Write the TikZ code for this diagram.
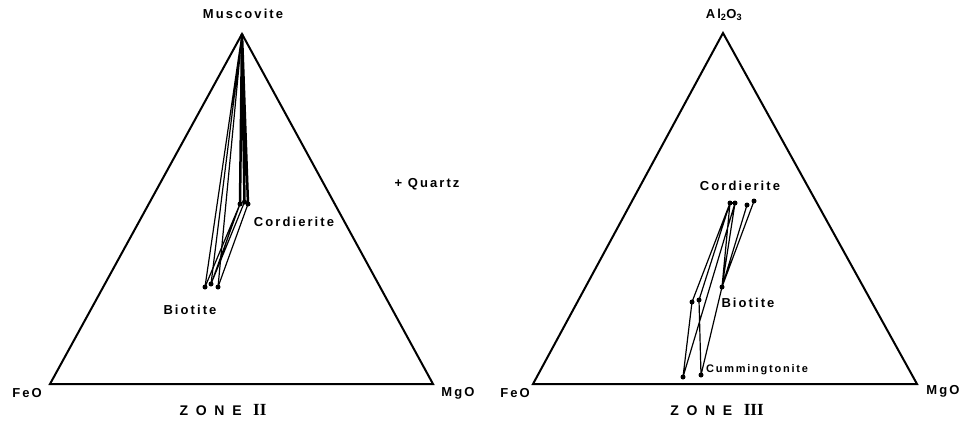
\documentclass[tikz,border=0pt]{standalone}
\usepackage{fontspec}
\setmainfont{Liberation Sans}
\newfontfamily\lblfont[LetterSpace=16]{Liberation Sans Bold}
\newfontfamily\zonefont[LetterSpace=55]{Liberation Sans Bold}
\newfontfamily\numfont{Liberation Serif Bold}
\begin{document}
\begin{tikzpicture}[x=1pt,y=-1pt,
  tri/.style={line width=2pt,line join=miter},
  tie/.style={line width=1.2pt},
  thick tie/.style={line width=2.5pt},
  dot/.style={circle,fill=black,inner sep=0pt,minimum size=5pt},
  lbl/.style={font=\lblfont\fontsize{13}{15}\selectfont,inner sep=0pt},
  zone/.style={font=\zonefont\fontsize{14}{16}\selectfont,inner sep=0pt}]
\useasboundingbox (0,0) rectangle (962,423);
% ---------- Zone II ----------
\coordinate (A1) at (242,34);
\coordinate (F1) at (50,384);
\coordinate (M1) at (433,384);
\draw[tri] (A1) -- (F1) -- (M1) -- cycle;
\node[dot] (c1) at (240,204) {};
\node[dot] (c2) at (244.5,202) {};
\node[dot] (c3) at (248,204) {};
\node[dot] (b1) at (205,287) {};
\node[dot] (b2) at (211,284) {};
\node[dot] (b3) at (218,287) {};
\draw[thick tie] (A1) -- (c1.center) (A1) -- (c2.center) (A1) -- (c3.center);
\draw[tie] (A1) -- (b1.center) (A1) -- (b2.center) (A1) -- (b3.center);
\draw[tie] (c1.center) -- (b1.center) (c2.center) -- (b2.center) (c3.center) -- (b3.center) (c1.center) -- (b2.center);
\node[lbl] (mus) at (243,14) {Muscovite};
\node[lbl] (feo1) at (27,393) {FeO};
\node[lbl] (mgo1) at (458,393) {MgO};
\node[lbl] (cord1) at (294,222) {Cordierite};
\node[lbl] (bio1) at (190,310) {Biotite};
\node[zone] (z2) at (223,410) {ZONE {\numfont\fontsize{17}{17}\selectfont II}};
% ---------- Quartz ----------
\node[lbl] (qz) at (427,184) {+ Quartz};
% ---------- Zone III ----------
\coordinate (A2) at (723,33);
\coordinate (F2) at (533,384);
\coordinate (M2) at (917,384);
\draw[tri] (A2) -- (F2) -- (M2) -- cycle;
\node[dot] (d1) at (730,203) {};
\node[dot] (d2) at (735,203) {};
\node[dot] (d3) at (747,205) {};
\node[dot] (d4) at (754,201) {};
\node[dot] (e1) at (692,302) {};
\node[dot] (e2) at (699,300) {};
\node[dot] (e3) at (722,287) {};
\node[dot] (g1) at (683,377) {};
\node[dot] (g2) at (701,375) {};
\draw[thick tie] (d1.center) -- (d2.center);
\draw[tie] (d1.center) -- (e1.center) (d1.center) -- (e2.center) (d2.center) -- (g1.center)
  (d1.center) -- (e3.center) (d2.center) -- (e3.center) (d3.center) -- (e3.center) (d4.center) -- (e3.center)
  (e1.center) -- (g1.center) (e2.center) -- (g2.center) (e3.center) -- (g2.center);
\node[lbl] (al) at (724,15) {Al\textsubscript{2}O\textsubscript{3}};
\node[lbl] (feo2) at (515,393) {FeO};
\node[lbl] (mgo2) at (943,391) {MgO};
\node[lbl] (cord2) at (740,186) {Cordierite};
\node[lbl] (bio2) at (748,303) {Biotite};
\node[lbl,font=\lblfont\fontsize{11}{13}\selectfont] (cum) at (757,370) {Cummingtonite};
\node[zone] (z3) at (717,410) {ZONE {\numfont\fontsize{17}{17}\selectfont III}};
\end{tikzpicture}
\end{document}
